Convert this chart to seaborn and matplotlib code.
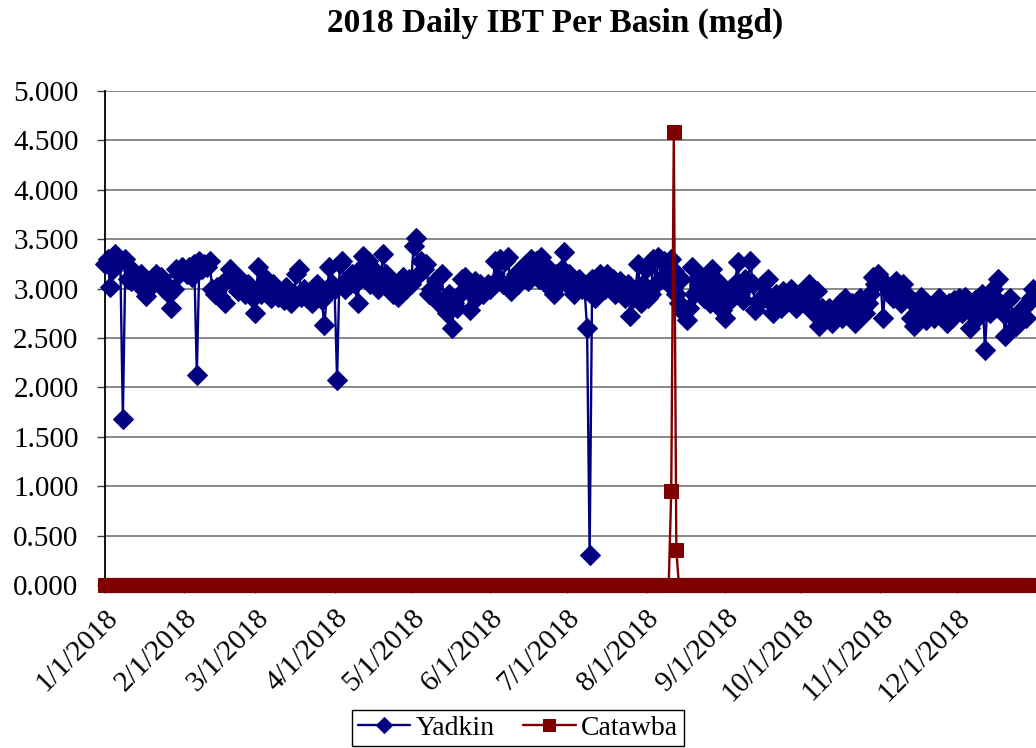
import pandas as pd
import seaborn as sns
import matplotlib.pyplot as plt
import matplotlib.dates as mdates

# daily IBT values, one list per month (mgd)
yadkin_jan = [3.25, 3.30, 3.02, 3.20, 3.35, 3.30, 3.28, 1.68, 3.30, 3.10, 3.08, 3.18, 3.12, 3.05, 3.15, 3.10,
              2.93, 3.00, 3.05, 3.10, 3.15, 3.08, 3.12, 3.00, 3.05, 2.95, 2.80, 3.00, 3.20, 3.15, 3.22]
yadkin_feb = [3.18, 3.15, 3.22, 3.12, 3.25, 2.13, 3.28, 3.20, 3.25, 3.22, 3.28, 3.00, 2.95, 3.02, 2.92, 3.05,
              2.85, 3.10, 3.20, 3.15, 3.05, 2.98, 3.10, 3.02, 2.95, 3.05, 2.98, 2.90]
yadkin_mar = [2.75, 3.22, 2.95, 3.05, 3.10, 2.98, 2.90, 3.05, 3.00, 2.92, 2.95, 2.88, 3.02, 2.98, 2.85, 2.95,
              3.15, 3.20, 2.92, 3.00, 2.90, 2.95, 2.85, 3.00, 3.05, 2.95, 2.88, 2.63, 2.95, 3.22, 3.05]
yadkin_apr = [3.00, 2.07, 3.25, 3.28, 3.00, 3.10, 3.05, 3.15, 3.05, 2.85, 3.20, 3.33, 3.15, 3.28, 3.05, 3.20,
              3.10, 3.00, 3.08, 3.35, 3.15, 3.10, 3.05, 2.95, 3.00, 2.92, 3.05, 3.12, 3.00, 3.10]
yadkin_may = [3.05, 3.43, 3.51, 3.15, 3.28, 3.20, 3.25, 2.95, 3.00, 2.90, 3.10, 2.85, 3.15, 2.80, 2.75, 2.95,
              2.60, 2.85, 2.80, 2.95, 3.10, 3.12, 3.00, 2.78, 2.95, 3.08, 2.92, 3.05, 2.95, 3.00, 3.05]
yadkin_jun = [3.00, 3.05, 3.28, 3.10, 3.30, 3.05, 3.28, 3.32, 2.98, 3.10, 3.15, 3.05, 3.20, 3.12, 3.25, 3.08,
              3.30, 3.20, 3.28, 3.10, 3.32, 3.15, 3.05, 3.20, 3.10, 2.95, 3.15, 3.05, 3.20, 3.37]
yadkin_jul = [3.10, 3.15, 3.00, 2.95, 3.05, 3.10, 3.00, 3.00, 2.60, 0.30, 3.10, 2.90, 3.05, 3.15, 3.10, 3.00,
              3.15, 3.05, 3.10, 2.95, 3.02, 3.08, 2.98, 2.90, 3.05, 2.72, 2.90, 3.00, 3.25, 2.85, 3.05]
yadkin_aug = [3.20, 2.90, 2.95, 3.30, 3.05, 3.32, 3.10, 3.28, 3.15, 3.05, 3.30, 3.18, 2.95, 2.85, 3.10, 2.75,
              2.68, 2.80, 3.22, 2.95, 3.10, 3.05, 3.12, 2.90, 3.00, 2.85, 3.20, 3.10, 2.95, 3.05, 2.78]
yadkin_sep = [2.70, 2.85, 3.00, 2.90, 3.05, 3.27, 2.95, 2.88, 3.10, 3.05, 3.28, 3.05, 2.78, 2.85, 2.90, 3.05,
              2.95, 3.10, 2.85, 2.75, 2.95, 2.92, 2.80, 2.98, 2.85, 2.90, 3.00, 2.85, 2.80, 2.95]
yadkin_oct = [2.92, 2.85, 3.00, 3.05, 2.85, 2.75, 2.98, 2.62, 2.80, 2.75, 2.70, 2.80, 2.65, 2.72, 2.78, 2.85,
              2.70, 2.90, 2.75, 2.80, 2.85, 2.65, 2.72, 2.90, 2.80, 2.75, 2.85, 2.95, 3.12, 3.05, 3.15]
yadkin_nov = [3.10, 2.70, 3.05, 3.00, 2.95, 2.90, 3.08, 2.92, 2.85, 3.05, 2.95, 2.90, 2.70, 2.62, 2.75, 2.80,
              2.92, 2.85, 2.68, 2.75, 2.80, 2.70, 2.85, 2.90, 2.72, 2.78, 2.65, 2.85, 2.70, 2.88]
yadkin_dec = [2.80, 2.90, 2.75, 2.92, 2.85, 2.60, 2.78, 2.88, 2.70, 2.80, 2.95, 2.38, 2.85, 2.75, 3.00, 2.80,
              3.10, 2.85, 2.75, 2.52, 2.88, 2.90, 2.70, 2.62, 2.65, 2.75, 2.80, 2.70, 2.85, 2.90, 3.00]

# Catawba is zero all year except a short event in mid August
catawba_event_dates = ["2018-08-11", "2018-08-12", "2018-08-13"]
catawba_event_values = [0.95, 4.58, 0.35]

tick_labels = ["1/1/2018", "2/1/2018", "3/1/2018", "4/1/2018", "5/1/2018", "6/1/2018",
               "7/1/2018", "8/1/2018", "9/1/2018", "10/1/2018", "11/1/2018", "12/1/2018"]

dates = pd.date_range("2018-01-01", "2018-12-31", freq="D")
yadkin = (yadkin_jan + yadkin_feb + yadkin_mar + yadkin_apr + yadkin_may + yadkin_jun +
          yadkin_jul + yadkin_aug + yadkin_sep + yadkin_oct + yadkin_nov + yadkin_dec)
data = pd.DataFrame({"date": dates, "Yadkin": yadkin, "Catawba": 0.0})
data.loc[data["date"].isin(pd.to_datetime(catawba_event_dates)), "Catawba"] = catawba_event_values

sns.set_style("ticks")
plt.rcParams["font.family"] = ["Liberation Serif", "DejaVu Serif"]
plt.rcParams["text.color"] = "black"

fig = plt.figure(figsize=(10.36, 7.48), dpi=100)
ax = fig.add_axes([105 / 1036, 1 - 585 / 748, 931 / 1036, 494 / 748])

# plot both basins
sns.lineplot(data=data, x="date", y="Yadkin", ax=ax, color="#000080", marker="D", markersize=10,
             markeredgecolor="#000080", linewidth=1.7, label="Yadkin", clip_on=False, zorder=3)
sns.lineplot(data=data, x="date", y="Catawba", ax=ax, color="#800000", marker="s", markersize=10.5,
             markeredgecolor="#800000", linewidth=1.7, label="Catawba", clip_on=False, zorder=4)

ax.set_ylim(0, 5)
ax.set_xlim(pd.Timestamp("2018-01-01"), pd.Timestamp("2019-01-01"))
ax.set_yticks([i * 0.5 for i in range(11)])
ax.set_yticklabels([f"{i * 0.5:.3f}" for i in range(11)], fontsize=21)
month_starts = pd.date_range("2018-01-01", periods=12, freq="MS")
ax.set_xticks(mdates.date2num(month_starts))
ax.set_xticklabels(tick_labels, fontsize=21, rotation=45, ha="right", rotation_mode="anchor")
ax.tick_params(axis="both", length=6, width=1, color="#404040", labelcolor="black")
ax.tick_params(axis="y", pad=13)
ax.tick_params(axis="x", pad=8)

ax.yaxis.grid(True, color="#808080", linewidth=1.3)
ax.set_axisbelow(True)
for side in ["top", "right", "bottom"]:
    ax.spines[side].set_visible(False)
ax.spines["left"].set_color("black")
ax.spines["left"].set_linewidth(1.3)
ax.set_xlabel("")
ax.set_ylabel("")

ax.get_legend().remove()
handles, labels = ax.get_legend_handles_labels()
fig.legend(handles, labels, loc="center", bbox_to_anchor=(0.5, 1 - 728 / 748), ncol=2, fontsize=20,
           frameon=True, fancybox=False, edgecolor="black", framealpha=1, handlelength=1.9,
           borderpad=0.2, columnspacing=1.0, handletextpad=0.2, markerscale=0.8)

fig.text(555 / 1036, 1 - 23 / 748, "2018 Daily IBT Per Basin (mgd)", ha="center", va="center",
         fontsize=24, fontweight="bold", color="black")

fig.savefig("out.png", dpi=100)
